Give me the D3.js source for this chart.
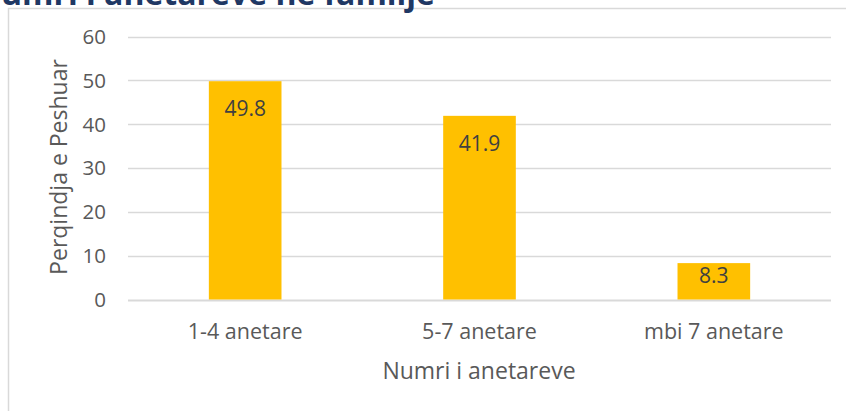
<!DOCTYPE html>
<html>
<head>
<meta charset="utf-8">
<script src="https://cdn.jsdelivr.net/npm/d3@7"></script>
<style>
  html, body { margin: 0; padding: 0; background: #fff; overflow: hidden; }
  svg { display: block; font-family: "Open Sans", sans-serif; }
</style>
</head>
<body>
<svg id="chart" width="846" height="411"></svg>
<script>
// data
const categories = ["1-4 anetare", "5-7 anetare", "mbi 7 anetare"];
const values = [49.8, 41.9, 8.3];
const yTicks = [0, 10, 20, 30, 40, 50, 60];
const titleText = "Numri i anetareve ne familje";
const xTitle = "Numri i anetareve";
const yTitle = "Perqindja e Peshuar";

const svg = d3.select("#chart");
const width = 846, height = 411;
const margin = { top: 36.5, right: 15, bottom: 111.5, left: 128 };

// outer chart frame (runs off the right and bottom edges)
svg.append("rect")
  .attr("x", 8.5).attr("y", 8.5)
  .attr("width", 900).attr("height", 500)
  .attr("fill", "none")
  .attr("stroke", "#d9d9d9")
  .attr("stroke-width", 1.5);

// title, mostly cut off above the page
svg.append("text")
  .attr("x", 435).attr("y", 5)
  .attr("text-anchor", "end")
  .attr("fill", "#1f3864")
  .style("font-weight", "bold")
  .style("font-size", "32px")
  .text(titleText);

const x = d3.scaleBand()
  .domain(categories)
  .range([margin.left, width - margin.right])
  .paddingInner(0.69)
  .paddingOuter(0.345);

const y = d3.scaleLinear()
  .domain([0, 60])
  .range([height - margin.bottom, margin.top]);

// gridlines
svg.append("g")
  .selectAll("line")
  .data(yTicks)
  .join("line")
  .attr("x1", margin.left)
  .attr("x2", width - margin.right)
  .attr("y1", d => Math.round(y(d)) + 0.5)
  .attr("y2", d => Math.round(y(d)) + 0.5)
  .attr("stroke", "#d9d9d9")
  .attr("stroke-width", d => d === 0 ? 2 : 1.5);

// y tick labels
svg.append("g")
  .selectAll("text")
  .data(yTicks)
  .join("text")
  .attr("x", 106)
  .attr("y", d => y(d))
  .attr("dy", "0.36em")
  .attr("text-anchor", "end")
  .attr("fill", "#595959")
  .style("font-size", "20.5px")
  .text(d => d);

// bars
svg.append("g")
  .selectAll("rect")
  .data(values)
  .join("rect")
  .attr("x", (d, i) => x(categories[i]))
  .attr("y", d => y(d))
  .attr("width", x.bandwidth())
  .attr("height", d => y(0) - y(d))
  .attr("fill", "#ffc000");

// value labels, inside end
svg.append("g")
  .selectAll("text")
  .data(values)
  .join("text")
  .attr("x", (d, i) => x(categories[i]) + x.bandwidth() / 2)
  .attr("y", d => Math.min(y(d) + 35, y(0) - 17))
  .attr("text-anchor", "middle")
  .attr("fill", "#404040")
  .style("font-size", "21px")
  .text(d => d.toFixed(1));

// x category labels
svg.append("g")
  .selectAll("text")
  .data(categories)
  .join("text")
  .attr("x", d => x(d) + x.bandwidth() / 2)
  .attr("y", 339)
  .attr("text-anchor", "middle")
  .attr("fill", "#595959")
  .style("font-size", "21.5px")
  .text(d => d);

// axis titles
svg.append("text")
  .attr("x", 479)
  .attr("y", 379)
  .attr("text-anchor", "middle")
  .attr("fill", "#595959")
  .style("font-size", "23px")
  .text(xTitle);

svg.append("text")
  .attr("transform", "translate(67," + 167 + ") rotate(-90)")
  .attr("text-anchor", "middle")
  .attr("fill", "#595959")
  .style("font-size", "23px")
  .text(yTitle);
</script>
</body>
</html>
